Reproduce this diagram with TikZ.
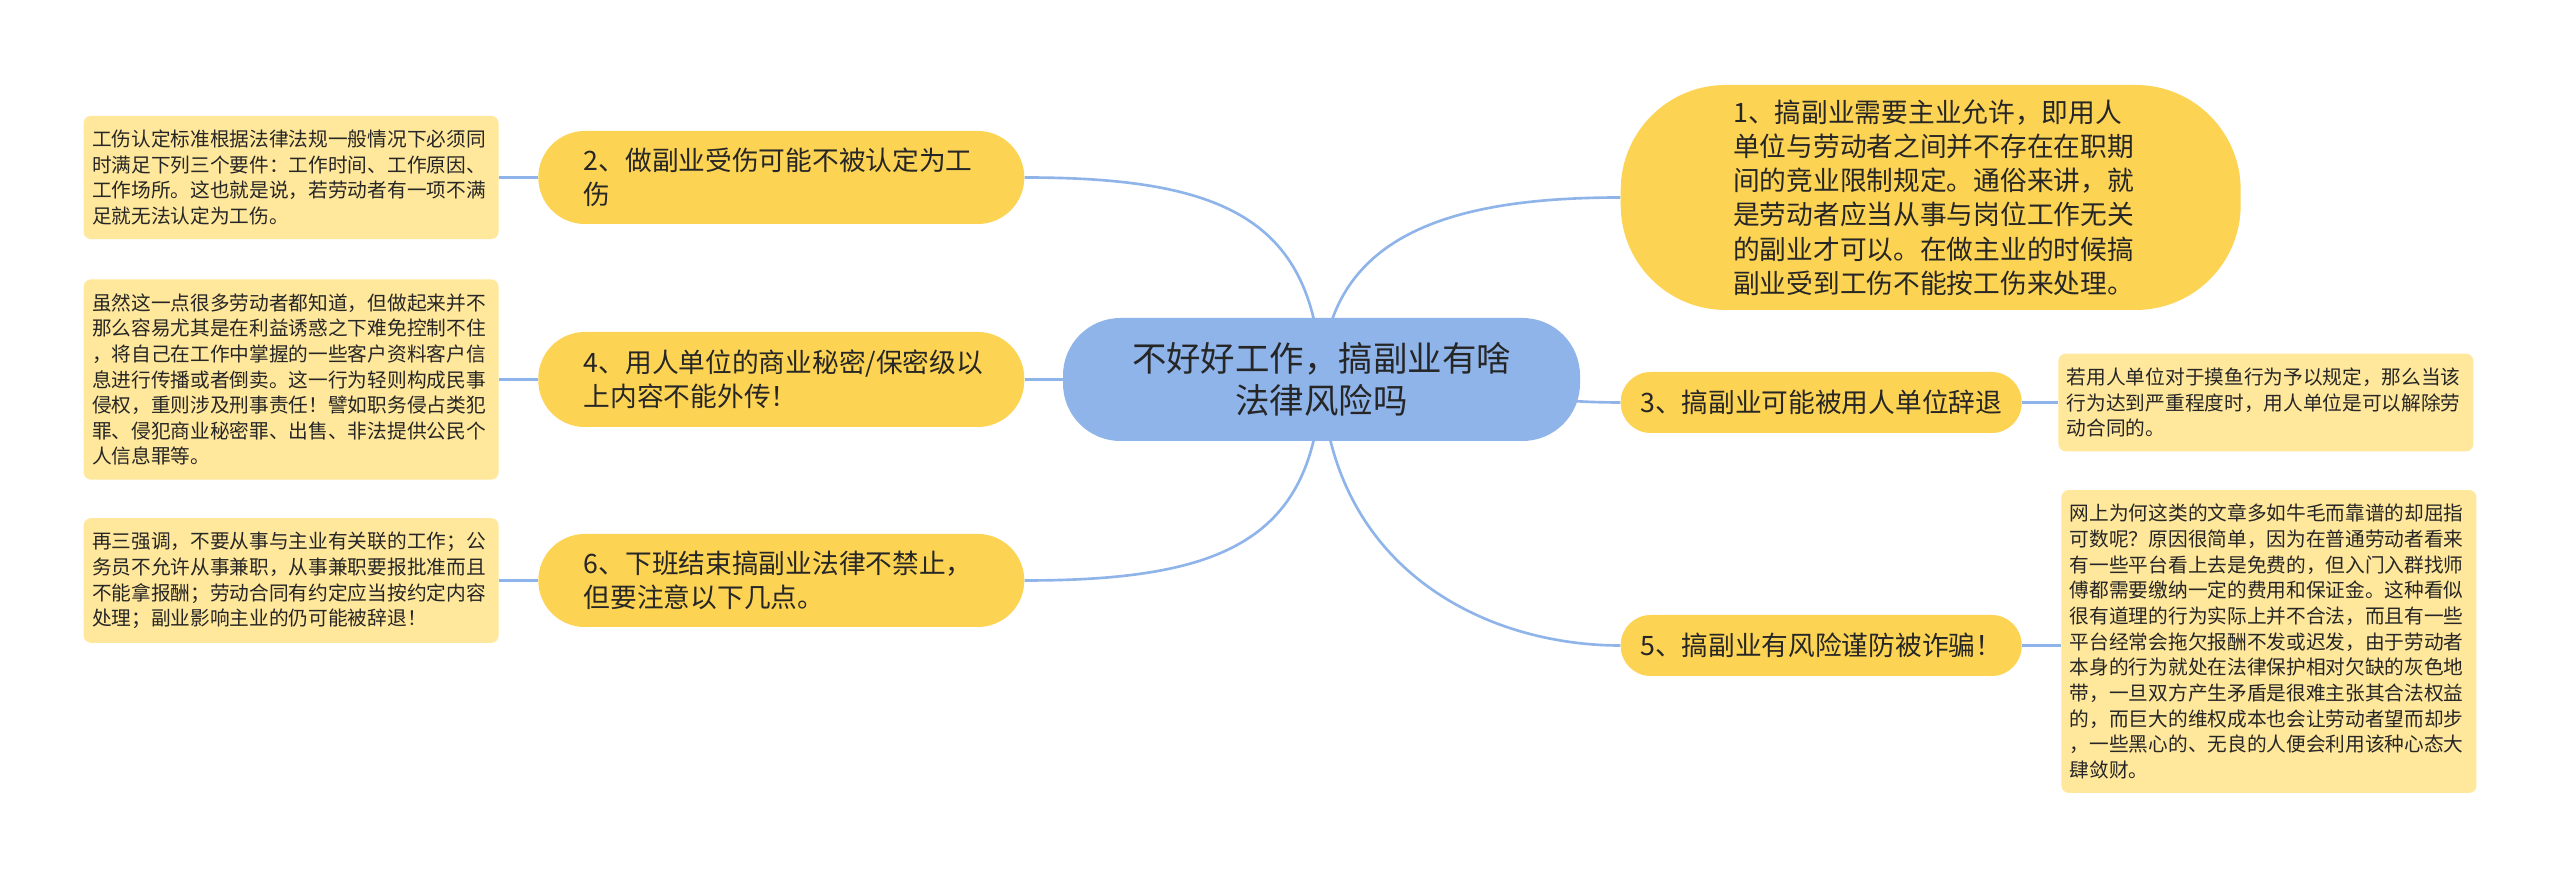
\documentclass[tikz,border=0pt]{standalone}
\usepackage{fontspec}
\setmainfont{Noto Sans CJK SC}
\usepackage{xcolor}
\usetikzlibrary{positioning, backgrounds}

\definecolor{hubblue}{HTML}{8FB4EA}
\definecolor{topicyellow}{HTML}{FDD353}
\definecolor{noteyellow}{HTML}{FFE79B}
\definecolor{linkblue}{HTML}{8FB4EA}
\definecolor{inkgray}{HTML}{262626}

\begin{document}
\begin{tikzpicture}[
    hub/.style={fill=hubblue, rounded corners=1.15cm, minimum width=10.34cm, minimum height=2.46cm, align=center, text=inkgray, font=\fontsize{19.6}{24.2}\selectfont},
    topic/.style={fill=topicyellow, rounded corners=0.6cm, inner xsep=0.35cm, inner ysep=0.1cm, align=left, text=inkgray, font=\fontsize{15.2}{19.5}\selectfont},
    note/.style={fill=noteyellow, rounded corners=0.15cm, text width=7.96cm, inner xsep=0.17cm, inner ysep=0.28cm, align=left, text=inkgray, font=\fontsize{11.2}{14.6}\selectfont},
    link/.style={draw=linkblue, line width=1.5pt}
]
\useasboundingbox (0,0) rectangle (51.2,17.58);

% Nodes
\node (question) [hub] at (26.43,9.99) {不好好工作，搞副业有啥\\法律风险吗};

\node (permit) [topic, right=0.8cm of question, yshift=3.64cm, minimum width=12.4cm, minimum height=4.5cm, text width=7.9cm, rounded corners=2.1cm] {1、搞副业需要主业允许，即用人\\单位与劳动者之间并不存在在职期\\间的竞业限制规定。通俗来讲，就\\是劳动者应当从事与岗位工作无关\\的副业才可以。在做主业的时候搞\\副业受到工伤不能按工伤来处理。};
\node (dismiss) [topic, right=0.8cm of question, yshift=-0.46cm, minimum width=8.02cm, minimum height=1.22cm] {3、搞副业可能被用人单位辞退};
\node (fraud) [topic, right=0.8cm of question, yshift=-5.32cm, minimum width=8.02cm, minimum height=1.22cm] {5、搞副业有风险谨防被诈骗！};

\node (injury) [topic, left=0.76cm of question, yshift=4.04cm, minimum width=9.72cm, minimum height=1.86cm, text width=7.9cm, rounded corners=0.93cm] {2、做副业受伤可能不被认定为工\\伤};
\node (secret) [topic, left=0.76cm of question, minimum width=9.72cm, minimum height=1.9cm, text width=7.9cm, rounded corners=0.93cm] {4、用人单位的商业秘密/保密级以\\上内容不能外传！};
\node (offwork) [topic, left=0.76cm of question, yshift=-4.02cm, minimum width=9.72cm, minimum height=1.86cm, text width=7.9cm, rounded corners=0.93cm] {6、下班结束搞副业法律不禁止，\\但要注意以下几点。};

\node (dismissnote) [note, right=0.72cm of dismiss] {若用人单位对于摸鱼行为予以规定，那么当该\\行为达到严重程度时，用人单位是可以解除劳\\动合同的。};
\node (fraudnote) [note, right=0.78cm of fraud, yshift=0.08cm] {网上为何这类的文章多如牛毛而靠谱的却屈指\\可数呢？原因很简单，因为在普通劳动者看来\\有一些平台看上去是免费的，但入门入群找师\\傅都需要缴纳一定的费用和保证金。这种看似\\很有道理的行为实际上并不合法，而且有一些\\平台经常会拖欠报酬不发或迟发，由于劳动者\\本身的行为就处在法律保护相对欠缺的灰色地\\带，一旦双方产生矛盾是很难主张其合法权益\\的，而巨大的维权成本也会让劳动者望而却步\\，一些黑心的、无良的人便会利用该种心态大\\肆敛财。};
\node (injurynote) [note, left=0.78cm of injury] {工伤认定标准根据法律法规一般情况下必须同\\时满足下列三个要件：工作时间、工作原因、\\工作场所。这也就是说，若劳动者有一项不满\\足就无法认定为工伤。};
\node (secretnote) [note, left=0.78cm of secret] {虽然这一点很多劳动者都知道，但做起来并不\\那么容易尤其是在利益诱惑之下难免控制不住\\，将自己在工作中掌握的一些客户资料客户信\\息进行传播或者倒卖。这一行为轻则构成民事\\侵权，重则涉及刑事责任！譬如职务侵占类犯\\罪、侵犯商业秘密罪、出售、非法提供公民个\\人信息罪等。};
\node (offworknote) [note, left=0.78cm of offwork] {再三强调，不要从事与主业有关联的工作；公\\务员不允许从事兼职，从事兼职要报批准而且\\不能拿报酬；劳动合同有约定应当按约定内容\\处理；副业影响主业的仍可能被辞退！};

% Edges
\begin{scope}[on background layer]
    \fill[white] (0,0) rectangle (51.2,17.58);
    \draw [link] (question.center) .. controls +(0.1,2.9) and +(-3.4,0) .. (permit.west);
    \draw [link] (question.center) .. controls +(2.8,0) and +(-2.2,0) .. (dismiss.west);
    \draw [link] (question.center) .. controls +(0.2,-3.8) and +(-2.7,0) .. (fraud.west);
    \draw [link] (question.center) .. controls +(-0.13,3.2) and +(4,0) .. (injury.east);
    \draw [link] (question.center) -- (secret.east);
    \draw [link] (question.center) .. controls +(-0.13,-3.2) and +(4,0) .. (offwork.east);
    \draw [link] (dismiss.east) -- (dismiss.east -| dismissnote.west);
    \draw [link] (fraud.east) -- (fraud.east -| fraudnote.west);
    \draw [link] (injury.west) -- (injurynote.east);
    \draw [link] (secret.west) -- (secretnote.east);
    \draw [link] (offwork.west) -- (offworknote.east);
\end{scope}

\end{tikzpicture}
\end{document}
